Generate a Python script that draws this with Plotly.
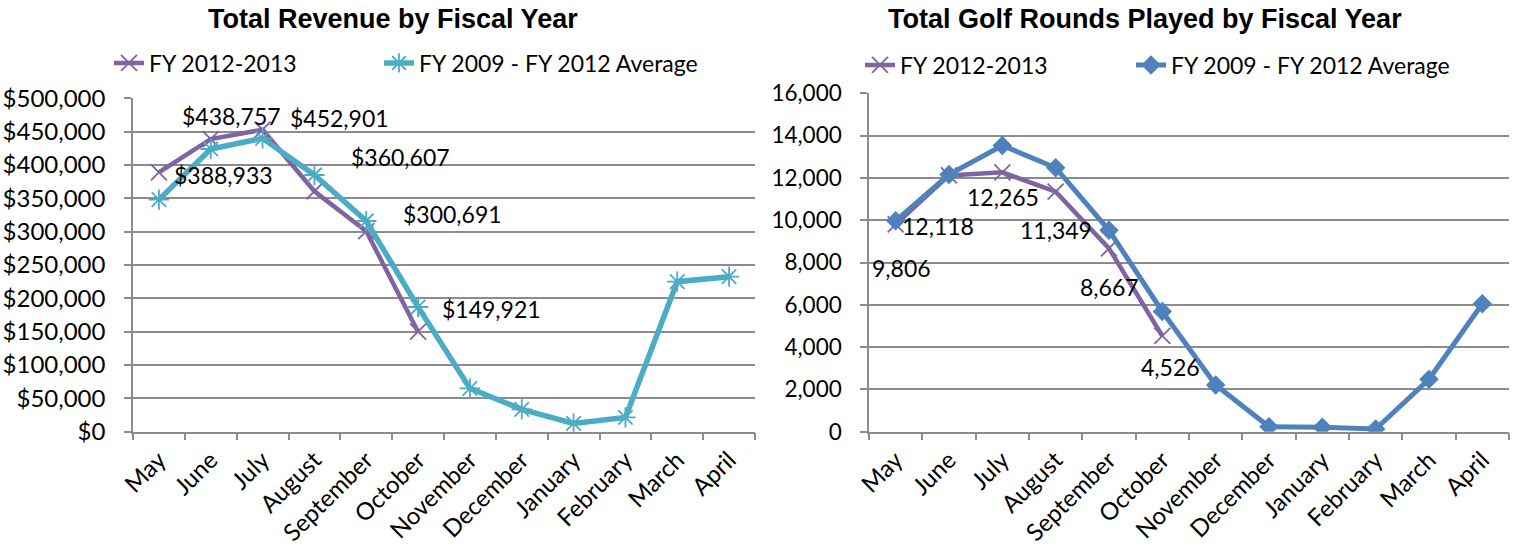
import plotly.graph_objects as go

months = ["May", "June", "July", "August", "September", "October", "November",
          "December", "January", "February", "March", "April"]

# Revenue ($)
rev_fy1213 = [388933, 438757, 452901, 360607, 300691, 149921]
rev_avg = [348000, 424000, 440000, 385000, 316000, 187000, 65000, 33500, 12500, 21500, 225000, 232500]

# Golf rounds
rnd_fy1213 = [9806, 12118, 12265, 11349, 8667, 4526]
rnd_avg = [9970, 12160, 13530, 12480, 9520, 5685, 2212, 237, 208, 128, 2480, 6050]

series_names = ["FY 2012-2013", "FY 2009 - FY 2012 Average"]
titles = ["Total Revenue by Fiscal Year", "Total Golf Rounds Played by Fiscal Year"]

# label offsets in px (style only)
rev_lbl_shift = [(65, -3), (21, 23), (77, 12), (86, 34), (86, 17), (73, 23)]
rnd_lbl_shift = [(6, -44), (-11, -51), (1, -25), (0, -38), (0, -39), (8, -31)]

PURPLE = "#8064A2"
TEAL = "#4BACC6"
BLUE = "#4F81BD"
GRID = "#8C8C8C"
FONT = "Lato, Calibri, sans-serif"
W, H = 1515, 550

fig = go.Figure()

fig.add_trace(go.Scatter(
    x=months[:len(rev_fy1213)], y=rev_fy1213, name=series_names[0], mode="lines+markers",
    line=dict(color=PURPLE, width=4.5),
    marker=dict(symbol="x-thin-open", size=16, color=PURPLE, line=dict(color=PURPLE, width=1.8)),
    xaxis="x", yaxis="y", legend="legend"))
fig.add_trace(go.Scatter(
    x=months, y=rev_avg, name=series_names[1], mode="lines+markers",
    line=dict(color=TEAL, width=5.5),
    marker=dict(symbol="asterisk-open", size=17, color=TEAL, line=dict(color=TEAL, width=1.8)),
    xaxis="x", yaxis="y", legend="legend2"))
fig.add_trace(go.Scatter(
    x=months[:len(rnd_fy1213)], y=rnd_fy1213, name=series_names[0], mode="lines+markers",
    line=dict(color=PURPLE, width=4.5),
    marker=dict(symbol="x-thin-open", size=16, color=PURPLE, line=dict(color=PURPLE, width=1.8)),
    xaxis="x2", yaxis="y2", legend="legend3"))
fig.add_trace(go.Scatter(
    x=months, y=rnd_avg, name=series_names[1], mode="lines+markers",
    line=dict(color=BLUE, width=5),
    marker=dict(symbol="diamond", size=15, color=BLUE),
    xaxis="x2", yaxis="y2", legend="legend4"))

annotations = []
for m, v, (dx, dy) in zip(months, rev_fy1213, rev_lbl_shift):
    annotations.append(dict(x=m, y=v, xref="x", yref="y", text=f"${v:,}", showarrow=False,
                            xshift=dx, yshift=dy, font=dict(family=FONT, size=23, color="black")))
for m, v, (dx, dy) in zip(months, rnd_fy1213, rnd_lbl_shift):
    annotations.append(dict(x=m, y=v, xref="x2", yref="y2", text=f"{v:,}", showarrow=False,
                            xshift=dx, yshift=dy, font=dict(family=FONT, size=23, color="black")))
for t, cx in zip(titles, [393, 1145]):
    annotations.append(dict(x=cx / W, y=1 - 19 / H, xref="paper", yref="paper", text=f"<b>{t}</b>",
                            showarrow=False, xanchor="center", yanchor="middle",
                            font=dict(family="Liberation Sans, Arial, sans-serif", size=27, color="black")))

xaxis_common = dict(type="category", tickson="boundaries", ticks="outside", ticklen=7,
                    tickcolor=GRID, tickwidth=1.5, showline=True, linecolor=GRID, linewidth=1.5,
                    showgrid=False, tickangle=-45, tickfont=dict(family=FONT, size=24, color="black"),
                    ticklabelstandoff=3,
                    categoryorder="array", categoryarray=months, range=[-0.5, 11.5], fixedrange=True,
                    automargin=False)
yaxis_common = dict(showgrid=True, gridcolor=GRID, gridwidth=1.5, showline=True, linecolor=GRID,
                    linewidth=1.5, ticks="outside", ticklen=7, tickcolor=GRID, tickwidth=1.5,
                    zeroline=False, ticklabelstandoff=14, fixedrange=True, automargin=False)

legend_common = dict(orientation="h", xanchor="left", yanchor="middle",
                     font=dict(family=FONT, size=23, color="black"), bgcolor="rgba(0,0,0,0)",
                     borderwidth=0)
legend_text_x = [154, 424, 905, 1176]
legend_y = [63, 63, 65, 65]

legends = {}
for i, (tx, ly) in enumerate(zip(legend_text_x, legend_y)):
    key = "legend" if i == 0 else f"legend{i + 1}"
    legends[key] = dict(x=(tx - 45) / W, y=1 - ly / H, **legend_common)

fig.update_layout(
    template="none",
    width=W, height=H, margin=dict(l=0, r=0, t=0, b=0, autoexpand=False),
    paper_bgcolor="white", plot_bgcolor="white",
    xaxis=dict(domain=[133 / W, 755 / W], anchor="y", **xaxis_common),
    yaxis=dict(domain=[1 - 431.7 / H, 1 - 98.3 / H], anchor="x", range=[0, 500000], dtick=50000,
               tickprefix="$", tickformat=",", tickfont=dict(family=FONT, size=24, color="black"),
               **yaxis_common),
    xaxis2=dict(domain=[869 / W, 1509 / W], anchor="y2", **xaxis_common),
    yaxis2=dict(domain=[1 - 431.7 / H, 1 - 93.3 / H], anchor="x2", range=[0, 16000], dtick=2000,
                tickformat=",", tickfont=dict(family=FONT, size=22.5, color="black"),
                **yaxis_common),
    annotations=annotations,
    showlegend=True,
    **legends,
)

fig.write_html("out.html", config={"displayModeBar": False},
               post_script="document.body.style.margin='0';")
